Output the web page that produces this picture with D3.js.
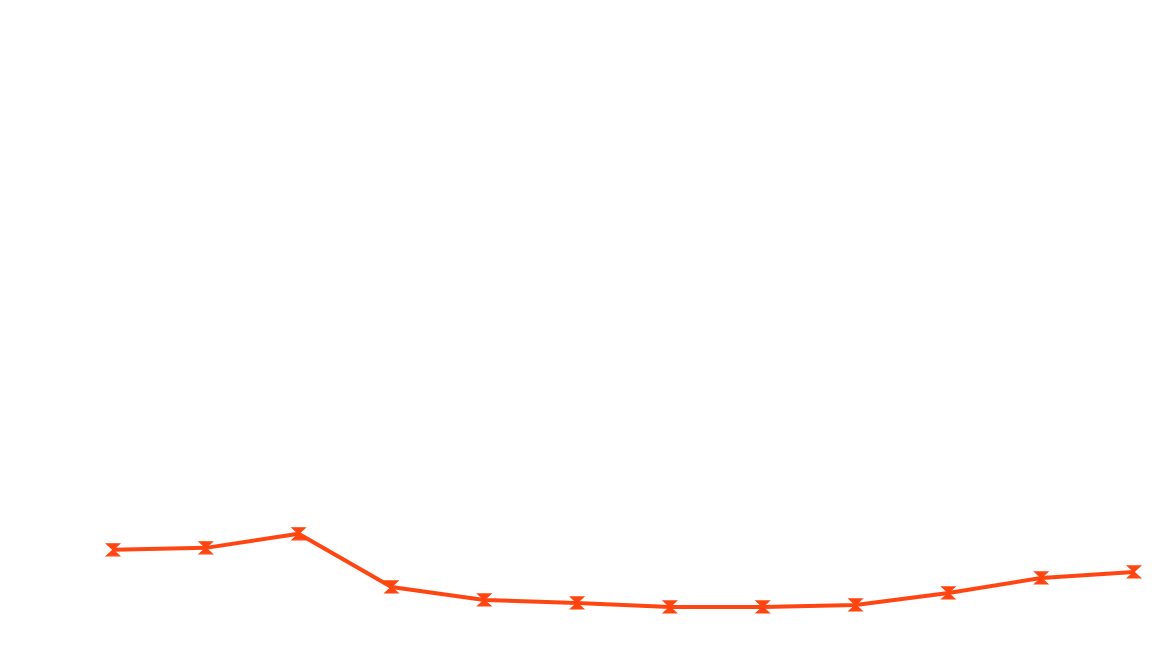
<!DOCTYPE html>
<html>
<head>
<meta charset="utf-8">
<script src="https://cdn.jsdelivr.net/npm/d3@7"></script>
<style>
	body { margin: 0; background: #fff; }
	svg { display: block; }
</style>
</head>
<body>
<div id="chart"></div>
<script>
// values (no axes shown, arbitrary units)
var categories = ['1', '2', '3', '4', '5', '6', '7', '8', '9', '10', '11', '12'];
var values = [9.1, 9.3, 10.7, 5.4, 4.1, 3.8, 3.4, 3.4, 3.6, 4.8, 6.3, 6.9];

var W = 1172, H = 658;
var margin = {top: 0, right: 38, bottom: 17, left: 113};
var lineColor = '#ff4511';

var svg = d3.select('#chart').append('svg')
	.attr('width', W)
	.attr('height', H);

var x = d3.scalePoint()
	.domain(categories)
	.range([margin.left, W - margin.right])
	.padding(0);

var y = d3.scaleLinear()
	.domain([0, 64])
	.range([H - margin.bottom, margin.top]);

var line = d3.line()
	.x(function(d, i) { return x(categories[i]); })
	.y(function(d) { return y(d); });

svg.append('path')
	.datum(values)
	.attr('fill', 'none')
	.attr('stroke', lineColor)
	.attr('stroke-width', 4)
	.attr('stroke-linejoin', 'round')
	.attr('d', line);

// hourglass markers
var hourglass = 'M-6.5,-6H6.5L0,0L6.5,6H-6.5L0,0Z';
svg.selectAll('path.marker')
	.data(values)
	.enter().append('path')
	.attr('class', 'marker')
	.attr('transform', function(d, i) { return 'translate(' + x(categories[i]) + ',' + y(d) + ')'; })
	.attr('d', hourglass)
	.attr('fill', lineColor)
	.attr('stroke', lineColor)
	.attr('stroke-width', 1.2)
	.attr('stroke-linejoin', 'miter');
</script>
</body>
</html>
